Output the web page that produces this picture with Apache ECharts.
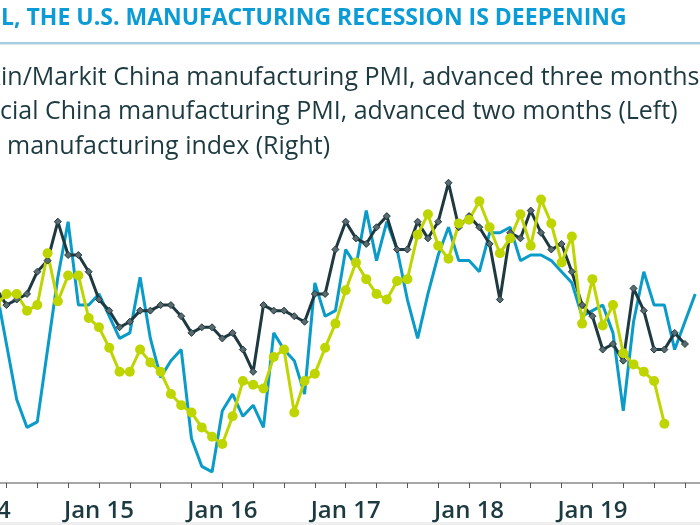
<!DOCTYPE html>
<html><head><meta charset="utf-8">
<script src="https://cdn.jsdelivr.net/npm/echarts@6/dist/echarts.min.js"></script>
<style>html,body{margin:0;padding:0;background:#fff;overflow:hidden;}#c{width:700px;height:525px;}</style>
</head><body><div id="c"></div>
<script>
const categories = [
 "Jan 14","Feb 14","Mar 14","Apr 14","May 14","Jun 14","Jul 14","Aug 14","Sep 14","Oct 14","Nov 14","Dec 14",
 "Jan 15","Feb 15","Mar 15","Apr 15","May 15","Jun 15","Jul 15","Aug 15","Sep 15","Oct 15","Nov 15","Dec 15",
 "Jan 16","Feb 16","Mar 16","Apr 16","May 16","Jun 16","Jul 16","Aug 16","Sep 16","Oct 16","Nov 16","Dec 16",
 "Jan 17","Feb 17","Mar 17","Apr 17","May 17","Jun 17","Jul 17","Aug 17","Sep 17","Oct 17","Nov 17","Dec 17",
 "Jan 18","Feb 18","Mar 18","Apr 18","May 18","Jun 18","Jul 18","Aug 18","Sep 18","Oct 18","Nov 18","Dec 18",
 "Jan 19","Feb 19","Mar 19","Apr 19","May 19","Jun 19","Jul 19","Aug 19","Sep 19","Oct 19","Nov 19","Dec 19"
];
// Caixin/Markit China manufacturing PMI, advanced three months (Left)
const caixin = [50.9,50.8,50.5,49.5,48.5,48.0,48.1,49.4,50.7,51.7,50.2,50.2,
 50.4,50.0,49.6,49.7,50.7,49.6,48.9,49.2,49.4,47.8,47.3,47.2,
 48.3,48.6,48.2,48.4,48.0,49.7,49.4,49.2,48.6,50.6,50.0,50.1,
 51.2,50.9,51.9,51.0,51.7,51.2,50.3,49.6,50.4,51.1,51.6,51.0,
 51.0,50.8,51.5,51.5,51.6,51.0,51.1,51.1,51.0,50.8,50.6,50.0,
 50.1,50.2,49.7,48.3,49.9,50.8,50.2,50.2,49.4,49.9,50.4,null];
// Official China manufacturing PMI, advanced two months (Left)
const official = [51.4,51.0,50.5,50.2,50.3,50.4,50.8,51.0,51.7,51.1,51.1,50.8,
 50.3,50.1,49.8,49.9,50.1,50.1,50.2,50.2,50.0,49.7,49.8,49.8,
 49.6,49.7,49.4,49.0,50.2,50.1,50.1,50.0,49.9,50.4,50.4,51.2,
 51.7,51.4,51.3,51.6,51.8,51.2,51.2,51.7,51.4,51.7,52.4,51.6,
 51.8,51.6,51.3,50.3,51.5,51.4,51.9,51.5,51.2,51.3,50.8,50.2,
 50.0,49.4,49.5,49.2,50.5,50.1,49.4,49.4,49.7,49.5,null,null];
// ISM manufacturing index (Right)
const ism = [null,null,55.6,56.2,56.2,55.3,55.6,58.4,55.8,57.2,57.2,54.9,
 54.4,53.3,52.0,52.0,53.2,52.5,52.0,50.8,50.2,49.8,49.0,48.5,
 48.1,49.6,51.5,51.3,51.1,52.8,53.2,49.8,51.5,51.9,53.3,54.6,
 56.4,57.9,57.0,56.2,55.9,56.9,57.0,59.4,60.5,58.8,58.1,60.0,
 60.2,61.2,59.8,58.4,59.2,60.5,58.8,61.3,60.0,57.9,59.3,54.6,
 57.0,54.5,55.6,53.0,52.4,52.0,51.5,49.2,null,null,null,null];
const titleText = "L, THE U.S. MANUFACTURING RECESSION IS DEEPENING";
const legendTexts = [
 "Caixin/Markit China manufacturing PMI, advanced three months (Left)",
 "Official China manufacturing PMI, advanced two months (Left)",
 "ISM manufacturing index (Right)"
];
const hiddenPrefix = ["Caix", "Offi", "ISM "];
const prefixShift = [1, 0, 7];

const chart = echarts.init(document.getElementById('c'), null, {renderer:'canvas'});
const LF = '400 25px "Open Sans"';
const mc = document.createElement('canvas').getContext('2d');
mc.font = LF;
const legendY = [78, 112, 147];
const graphics = [
 {type:'text', x:1, y:18, style:{text:titleText, x:0, y:0, font:'bold 23px "Open Sans"', fill:'#0b9bd5', verticalAlign:'middle'}},
 {type:'rect', shape:{x:0, y:42, width:700, height:2.5}, style:{fill:'#a9cde0'}},
 {type:'rect', shape:{x:0, y:522, width:700, height:3}, style:{fill:'#eeeeee'}}
];
legendTexts.forEach((t,i)=>{
 const x0 = prefixShift[i] - mc.measureText(hiddenPrefix[i]).width;
 graphics.push({type:'text', x:x0, y:legendY[i], style:{text:t, x:0, y:0, font:LF, fill:'#1d3a40', verticalAlign:'middle'}});
});

chart.setOption({
 animation:false,
 backgroundColor:'#fff',
 graphic: graphics,
 grid:{left:-24.4, right:-5.5, top:149.4, bottom:42, containLabel:false, outerBoundsMode:'none'},
 xAxis:{type:'category', data:categories, boundaryGap:false,
  axisLine:{show:true, lineStyle:{color:'#8a8a8a', width:1.5}},
  axisTick:{show:true, length:5, interval:(i)=>i%3===0, lineStyle:{color:'#555', width:1}},
  axisLabel:{interval:(i)=>i%12===0, color:'#1d3a40', fontSize:24, fontWeight:600, fontFamily:'Open Sans', margin:16},
  splitLine:{show:false}},
 yAxis:[
  {type:'value', min:47, max:53, show:false, splitLine:{show:false}},
  {type:'value', min:46, max:64, show:false, splitLine:{show:false}}
 ],
 series:[
  {name:legendTexts[0], type:'line', yAxisIndex:0, data:caixin, showSymbol:false, symbol:'none',
   lineStyle:{color:'#0a9bc8', width:3}, itemStyle:{color:'#0a9bc8'}},
  {name:legendTexts[1], type:'line', yAxisIndex:0, data:official, symbol:'diamond', symbolSize:7, showSymbol:true, showAllSymbol:true,
   lineStyle:{color:'#1e3a40', width:3}, itemStyle:{color:'#5a6a6e', borderColor:'#1e3a40', borderWidth:1}},
  {name:legendTexts[2], type:'line', yAxisIndex:1, data:ism, symbol:'circle', symbolSize:10, showSymbol:true, showAllSymbol:true,
   lineStyle:{color:'#bfd500', width:3}, itemStyle:{color:'#bfd500'}}
 ]
});
</script></body></html>
